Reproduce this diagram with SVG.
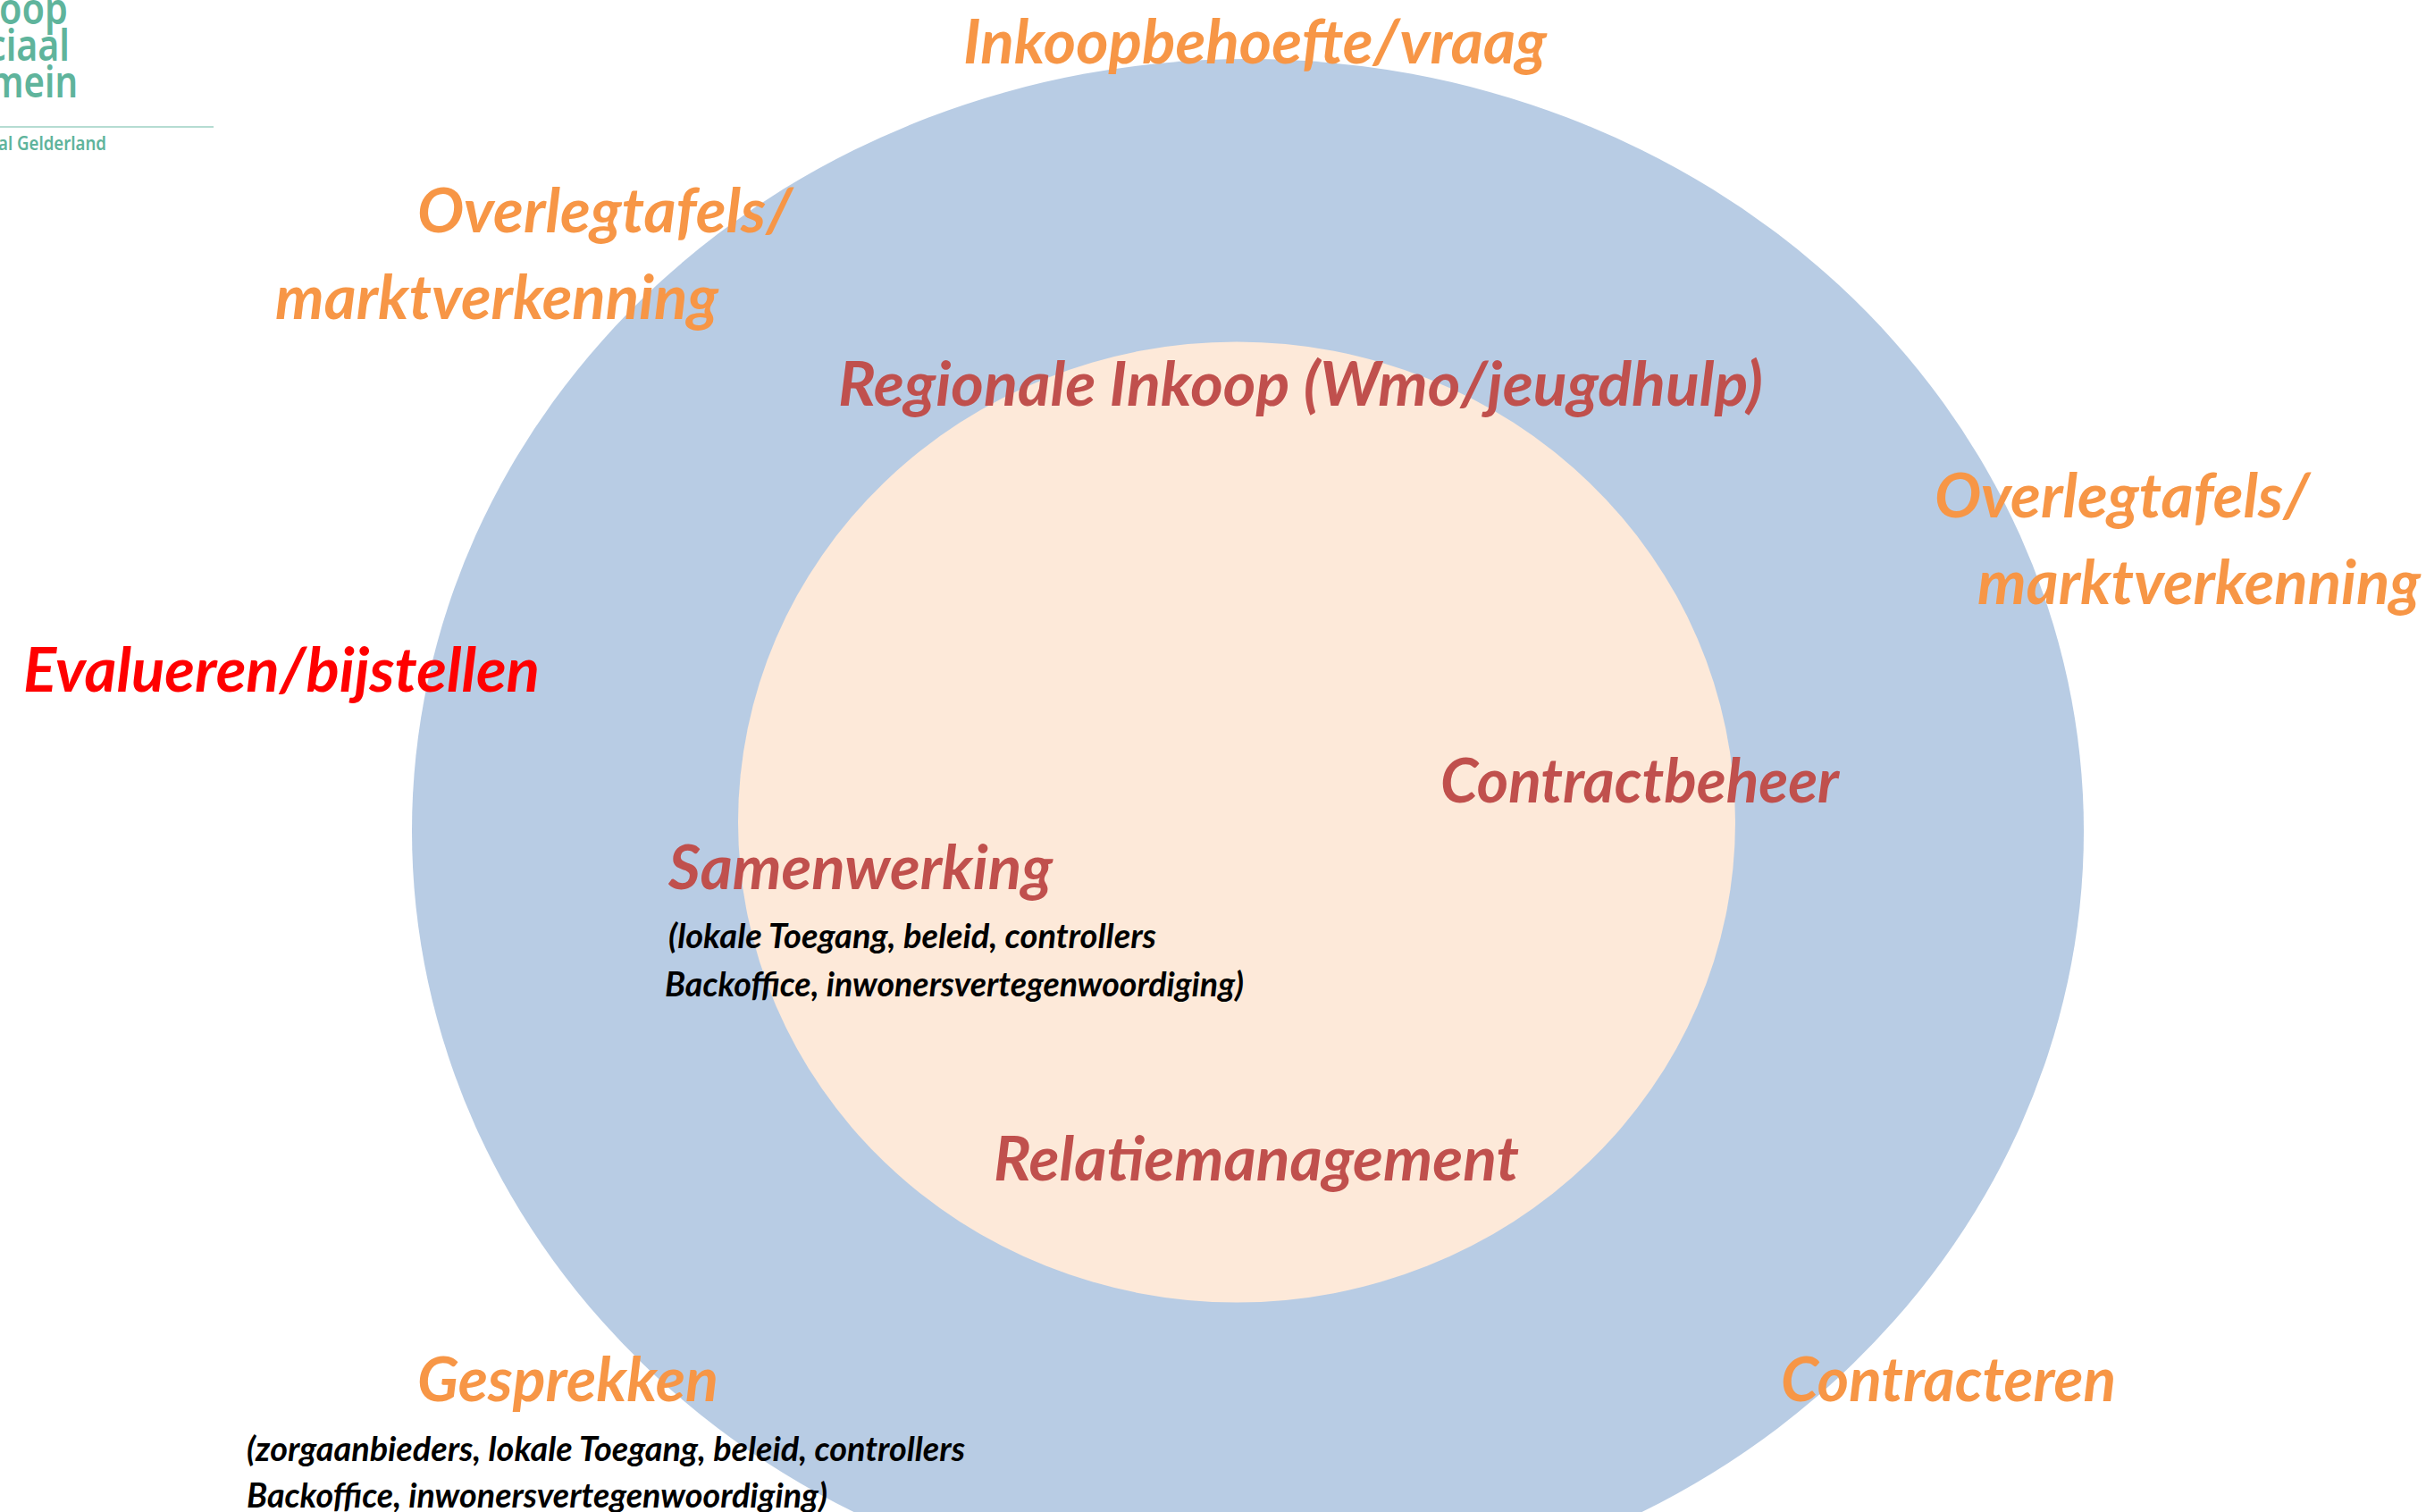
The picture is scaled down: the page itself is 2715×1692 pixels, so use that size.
<svg xmlns="http://www.w3.org/2000/svg" width="2715" height="1692" viewBox="0 0 2715 1692">
<style>
text{font-family:"Lato","Liberation Sans",sans-serif;font-weight:700;font-style:italic}
.o{fill:#f79646;font-size:68px}
.r{fill:#c0504d;font-size:68px}
.k{fill:#000;font-size:38px}
.l{fill:#5fb49c;font-family:"Noto Sans","Liberation Sans",sans-serif;font-style:normal;font-weight:600;text-anchor:end}
</style>
<rect width="2715" height="1692" fill="#fff"/>
<g id="outer-ring"><ellipse cx="1396.500" cy="930" rx="935.500" ry="864" fill="#b8cce4"/></g>
<g id="inner-circle"><ellipse cx="1384" cy="920" rx="558" ry="537.500" fill="#fde9d9"/></g>
<g id="logo">
<text class="l" x="76" y="27" font-size="48" textLength="77" lengthAdjust="spacingAndGlyphs">oop</text>
<text class="l" x="78" y="68" font-size="48" textLength="92" lengthAdjust="spacingAndGlyphs">ciaal</text>
<text class="l" x="87" y="109" font-size="48" textLength="99" lengthAdjust="spacingAndGlyphs">mein</text>
<rect x="0" y="141" width="239" height="2" fill="#b5dcd2"/>
<text class="l" x="119" y="168" font-size="21" textLength="121" lengthAdjust="spacingAndGlyphs">al Gelderland</text>
</g>
<g id="inkoopbehoefte"><text class="o" x="1078" y="71" textLength="653" lengthAdjust="spacingAndGlyphs">Inkoopbehoefte/vraag</text></g>
<g id="overlegtafels-links">
<text class="o" x="467" y="260" textLength="420" lengthAdjust="spacingAndGlyphs">Overlegtafels/</text>
<text class="o" x="308" y="357" textLength="496" lengthAdjust="spacingAndGlyphs">marktverkenning</text>
</g>
<g id="overlegtafels-rechts">
<text class="o" x="2165" y="579" textLength="420" lengthAdjust="spacingAndGlyphs">Overlegtafels/</text>
<text class="o" x="2213" y="676" textLength="496" lengthAdjust="spacingAndGlyphs">marktverkenning</text>
</g>
<g id="evalueren"><text x="26" y="774" font-size="68" fill="#ff0000" textLength="578" lengthAdjust="spacingAndGlyphs">Evalueren/bijstellen</text></g>
<g id="regionale-inkoop"><text class="r" x="938" y="454" textLength="1035" lengthAdjust="spacingAndGlyphs">Regionale Inkoop (Wmo/jeugdhulp)</text></g>
<g id="contractbeheer"><text class="r" x="1612" y="898" textLength="446" lengthAdjust="spacingAndGlyphs">Contractbeheer</text></g>
<g id="samenwerking">
<text class="r" x="748" y="995" textLength="430" lengthAdjust="spacingAndGlyphs">Samenwerking</text>
<text class="k" x="748" y="1061" textLength="546" lengthAdjust="spacingAndGlyphs">(lokale Toegang, beleid, controllers</text>
<text class="k" x="744" y="1115" textLength="648" lengthAdjust="spacingAndGlyphs">Backoffice, inwonersvertegenwoordiging)</text>
</g>
<g id="relatiemanagement"><text class="r" x="1112" y="1321" textLength="588" lengthAdjust="spacingAndGlyphs">Relatiemanagement</text></g>
<g id="gesprekken">
<text class="o" x="467" y="1568" textLength="337" lengthAdjust="spacingAndGlyphs">Gesprekken</text>
<text class="k" x="276" y="1635" textLength="804" lengthAdjust="spacingAndGlyphs">(zorgaanbieders, lokale Toegang, beleid, controllers</text>
<text class="k" x="276" y="1687" textLength="650" lengthAdjust="spacingAndGlyphs">Backoffice, inwonersvertegenwoordiging)</text>
</g>
<g id="contracteren"><text class="o" x="1993" y="1568" textLength="375" lengthAdjust="spacingAndGlyphs">Contracteren</text></g>
</svg>
